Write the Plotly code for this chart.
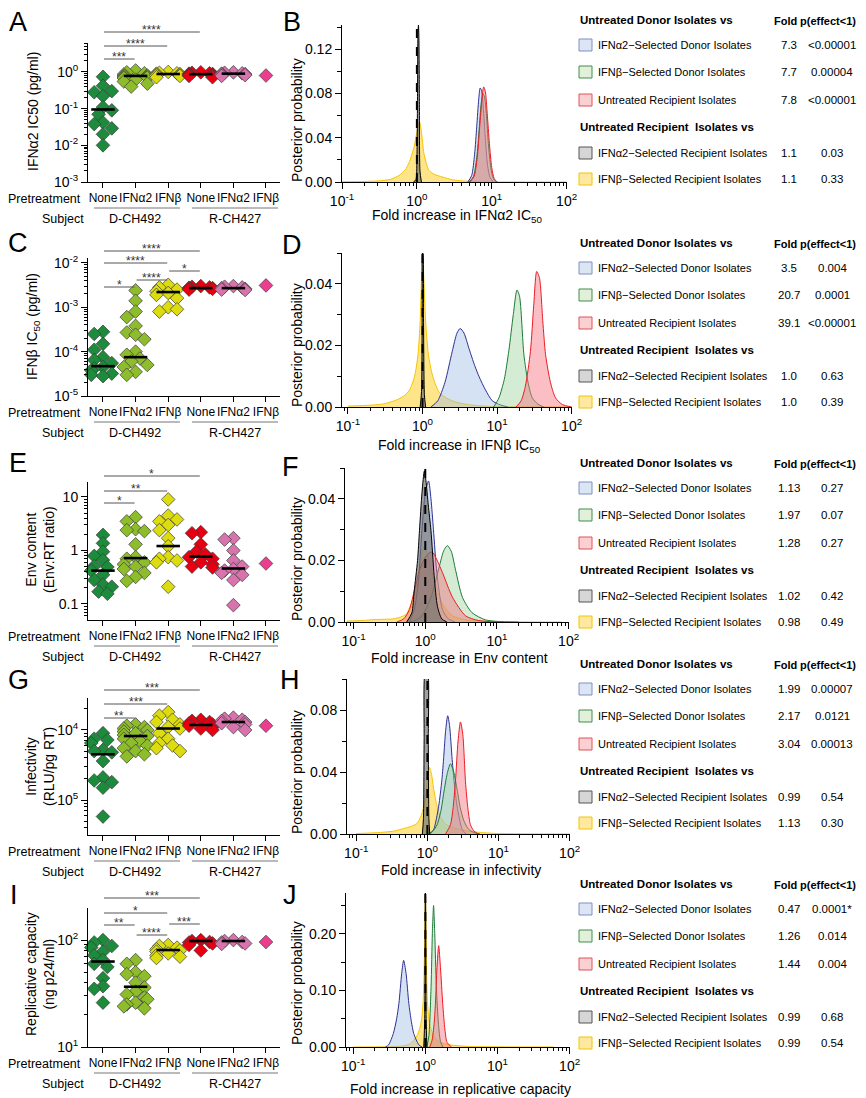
import numpy as np
import plotly.graph_objects as go

# The page body adds an 8px margin; the figure is sized so that it ends at the window edge.
OFF = 8
W, H = 866 - OFF, 1098 - OFF
def fx(p): return (p - OFF) / W
def fy(p): return 1 - (p - OFF) / H

SANS = "Liberation Sans, Arial, Helvetica, sans-serif"
NARROW = "Liberation Sans Narrow, Arial Narrow, Liberation Sans, Arial, sans-serif"

# ---------------- data ----------------
categories = ["None", "IFNα2", "IFNβ", "None", "IFNα2", "IFNβ"]
group_colors = ["#1c8c3c", "#8dbd2a", "#dcdc10", "#e60012", "#d873ad", "#ec3d8f"]

A_d_none = [0.74, 0.42, 0.30, 0.28, 0.22, 0.11, 0.09, 0.07, 0.042, 0.038, 0.029, 0.02, 0.01]
A_d_a2 = [1.1, 0.98, 0.92, 0.86, 0.8, 0.78, 0.75, 0.72, 0.7, 0.68, 0.62, 0.55, 0.48, 0.4]
A_d_b = [1.0, 0.95, 0.92, 0.9, 0.88, 0.85, 0.82, 0.8, 0.78, 0.72]
A_r_none = [0.98, 0.95, 0.92, 0.9, 0.88, 0.86, 0.85, 0.82, 0.8, 0.78, 0.72]
A_r_a2 = [0.98, 0.95, 0.92, 0.9, 0.88, 0.85, 0.82, 0.78]
A_r_b = [0.8]
A_med = [0.095, 0.78, 0.88, 0.87, 0.9, None]

C_d_none = [2.8e-4, 2.5e-4, 1.5e-4, 1.1e-4, 7.5e-5, 6.5e-5, 5.5e-5, 4.5e-5, 4.2e-5, 3.8e-5, 3.2e-5, 3.0e-5, 2.8e-5]
C_d_a2 = [2.4e-3, 1.4e-3, 8e-4, 6e-4, 3.8e-4, 2.7e-4, 2.4e-4, 1.9e-4, 1e-4, 8.5e-5, 7e-5, 6e-5, 5e-5, 4.5e-5, 3.5e-5, 3e-5]
C_d_b = [3.2e-3, 2.8e-3, 2.5e-3, 2.3e-3, 2.1e-3, 1.9e-3, 1.6e-3, 1.0e-3, 9e-4, 8e-4]
C_r_none = [3.0e-3, 2.9e-3, 2.8e-3, 2.75e-3, 2.7e-3, 2.65e-3, 2.6e-3, 2.5e-3]
C_r_a2 = [3.0e-3, 2.9e-3, 2.8e-3, 2.7e-3, 2.6e-3, 2.5e-3, 2.45e-3]
C_r_b = [3.1e-3]
C_med = [4.7e-5, 7.5e-5, 2.2e-3, 2.7e-3, 2.7e-3, None]

E_d_none = [1.95, 1.36, 0.95, 0.79, 0.66, 0.51, 0.49, 0.42, 0.35, 0.28, 0.23, 0.21, 0.17, 0.155]
E_d_a2 = [4.2, 3.5, 2.5, 2.4, 2.3, 1.3, 0.75, 0.7, 0.6, 0.55, 0.5, 0.45, 0.38, 0.32, 0.27]
E_d_b = [9.0, 4.5, 3.8, 3.5, 3.0, 2.4, 1.7, 1.2, 0.75, 0.7, 0.65, 0.6, 0.21]
E_r_none = [2.2, 2.1, 1.3, 0.95, 0.85, 0.75, 0.7, 0.6, 0.55, 0.5, 0.48]
E_r_a2 = [1.7, 1.6, 1.0, 0.65, 0.5, 0.45, 0.42, 0.38, 0.35, 0.28, 0.095]
E_r_b = [0.57]
E_med = [0.42, 0.72, 1.21, 0.77, 0.46, None]

G_d_none = [9.0e3, 7.5e3, 7.2e3, 6.5e3, 5.2e3, 5.0e3, 4.8e3, 3.6e3, 2.1e3, 1.9e3, 1.8e3, 1.5e3, 580]
G_d_a2 = [1.2e4, 1.15e4, 1.1e4, 1.05e4, 1.0e4, 9.5e3, 9.0e3, 8.5e3, 8.2e3, 7.5e3, 7.0e3, 6.5e3, 6.0e3, 5.5e3, 5.0e3, 4.5e3, 4.2e3]
G_d_b = [1.8e4, 1.6e4, 1.4e4, 1.3e4, 1.2e4, 1.1e4, 1.05e4, 9.0e3, 7.5e3, 6.5e3, 6.0e3, 5.5e3, 5.0e3]
G_r_none = [1.4e4, 1.35e4, 1.3e4, 1.25e4, 1.2e4, 1.15e4, 1.1e4, 1.05e4, 1.0e4]
G_r_a2 = [1.5e4, 1.45e4, 1.4e4, 1.35e4, 1.3e4, 1.25e4, 1.2e4, 1.1e4, 1.0e4]
G_r_b = [1.15e4]
G_med = [4.5e3, 8.2e3, 1.05e4, 1.18e4, 1.3e4, None]

I_d_none = [100, 95, 88, 85, 78, 72, 65, 60, 56, 44, 37, 35, 26]
I_d_a2 = [65, 60, 50, 48, 46, 40, 36, 33, 31, 29, 28, 26, 25, 24, 23]
I_d_b = [90, 88, 85, 82, 80, 78, 75, 72, 70, 68]
I_r_none = [100, 98, 96, 95, 93, 90, 80]
I_r_a2 = [100, 98, 96, 95, 93, 92]
I_r_b = [96]
I_med = [63, 36.6, 80.7, 98, 98, None]

# significance comparisons: (group i, group j, label)
A_sig = [(0, 1, "***"), (0, 2, "****"), (0, 3, "****")]
C_sig = [(0, 1, "*"), (1, 2, "****"), (2, 3, "*"), (0, 2, "****"), (0, 3, "****")]
E_sig = [(0, 1, "*"), (0, 2, "**"), (0, 3, "*")]
G_sig = [(0, 1, "**"), (0, 2, "***"), (0, 3, "***")]
I_sig = [(0, 1, "**"), (1, 2, "****"), (2, 3, "***"), (0, 2, "*"), (0, 3, "***")]

# posterior densities (fold, density)
B_yellow_fold = [0.1, 0.2, 0.31, 0.45, 0.58, 0.7, 0.78, 0.85, 0.92, 1.0, 1.06, 1.09, 1.15, 1.24, 1.35, 1.45, 1.7, 2.2, 3.0, 4.0, 6, 10, 100]
B_yellow_dens = [0.0002, 0.0005, 0.001, 0.0025, 0.006, 0.011, 0.017, 0.024, 0.032, 0.045, 0.053, 0.054, 0.045, 0.026, 0.016, 0.0105, 0.007, 0.0045, 0.002, 0.001, 0.0004, 0.0001, 0]
B_black_fold = [0.9, 0.97, 1.0, 1.02, 1.035, 1.05, 1.065, 1.08, 1.1, 1.15]
B_black_dens = [0, 0.002, 0.02, 0.08, 0.135, 0.142, 0.13, 0.07, 0.01, 0]
B_blue_fold = [4.8, 5.4, 5.9, 6.3, 6.7, 7.0, 7.3, 7.7, 8.2, 8.8, 9.5, 10.5]
B_blue_dens = [0, 0.006, 0.025, 0.05, 0.075, 0.085, 0.083, 0.068, 0.04, 0.015, 0.004, 0]
B_green_fold = [5.0, 5.7, 6.3, 6.8, 7.2, 7.6, 8.0, 8.5, 9.0, 9.7, 10.5, 11.5]
B_green_dens = [0, 0.005, 0.022, 0.048, 0.07, 0.08, 0.077, 0.06, 0.035, 0.013, 0.003, 0]
B_red_fold = [5.1, 5.8, 6.4, 6.9, 7.4, 7.8, 8.2, 8.7, 9.3, 10.0, 10.8, 11.8]
B_red_dens = [0, 0.005, 0.022, 0.05, 0.075, 0.086, 0.082, 0.062, 0.035, 0.013, 0.003, 0]

D_yellow_fold = [0.1, 0.2, 0.3, 0.45, 0.58, 0.67, 0.78, 0.87, 0.93, 0.97, 1.0, 1.04, 1.1, 1.2, 1.37, 1.7, 2.5, 4, 8, 100]
D_yellow_dens = [0.0003, 0.0006, 0.001, 0.0023, 0.0038, 0.0055, 0.0098, 0.017, 0.028, 0.042, 0.05, 0.042, 0.028, 0.017, 0.01, 0.0045, 0.002, 0.0008, 0.0002, 0]
D_black_fold = [0.93, 0.97, 0.99, 1.0, 1.01, 1.03, 1.06, 1.1]
D_black_dens = [0, 0.005, 0.04, 0.05, 0.05, 0.03, 0.004, 0]
D_blue_fold = [1.3, 1.6, 2.0, 2.5, 2.9, 3.2, 3.6, 4.2, 5.0, 5.75, 7.0, 8.65, 11, 14]
D_blue_dens = [0, 0.002, 0.008, 0.018, 0.024, 0.0255, 0.024, 0.019, 0.0135, 0.0098, 0.0055, 0.002, 0.0007, 0]
D_green_fold = [9, 10.6, 12.5, 14.4, 16.5, 18.5, 20, 22.9, 26, 29.6, 35, 42]
D_green_dens = [0, 0.003, 0.009, 0.0184, 0.03, 0.038, 0.036, 0.017, 0.008, 0.003, 0.001, 0]
D_red_fold = [18, 21, 24, 28, 31, 34, 37, 41, 44.7, 52, 60.7, 75, 100]
D_red_dens = [0, 0.002, 0.0068, 0.018, 0.033, 0.044, 0.042, 0.028, 0.017, 0.008, 0.003, 0.0008, 0]

F_yellow_fold = [0.08, 0.135, 0.2, 0.35, 0.45, 0.54, 0.635, 0.75, 0.85, 0.95, 1.0, 1.1, 1.25, 1.45, 1.73, 2.4, 3.5, 6, 10, 80]
F_yellow_dens = [0.0003, 0.0005, 0.0008, 0.001, 0.0016, 0.0025, 0.006, 0.012, 0.019, 0.0243, 0.024, 0.021, 0.016, 0.011, 0.006, 0.002, 0.0008, 0.0003, 0.0001, 0]
F_black_fold = [0.55, 0.65, 0.7, 0.78, 0.83, 0.9, 0.97, 1.02, 1.1, 1.2, 1.33, 1.48, 1.7, 2]
F_black_dens = [0, 0.003, 0.01, 0.02, 0.0297, 0.042, 0.049, 0.046, 0.038, 0.0297, 0.015, 0.005, 0.001, 0]
F_blue_fold = [0.6, 0.7, 0.8, 0.9, 1.0, 1.11, 1.2, 1.3, 1.45, 1.74, 2.1, 2.6]
F_blue_dens = [0, 0.004, 0.013, 0.03, 0.042, 0.0458, 0.04, 0.03, 0.016, 0.004, 0.001, 0]
F_green_fold = [0.6, 0.72, 0.9, 1.2, 1.56, 1.8, 2.03, 2.3, 2.65, 3.3, 4.5, 6.9, 10, 20]
F_green_dens = [0, 0.0005, 0.002, 0.008, 0.0178, 0.023, 0.0248, 0.023, 0.0168, 0.008, 0.003, 0.0007, 0.0002, 0]
F_red_fold = [0.4, 0.5, 0.6, 0.7, 0.83, 1.0, 1.15, 1.26, 1.4, 1.74, 2.4, 3.65, 5.5, 10]
F_red_dens = [0, 0.001, 0.004, 0.01, 0.0168, 0.021, 0.0225, 0.0227, 0.021, 0.016, 0.008, 0.002, 0.0005, 0]

H_yellow_fold = [0.1, 0.22, 0.35, 0.46, 0.6, 0.72, 0.82, 0.89, 0.96, 1.02, 1.07, 1.15, 1.23, 1.35, 1.52, 1.8, 2.35, 3.5, 5.6, 10, 100]
H_yellow_dens = [0.0003, 0.001, 0.002, 0.0035, 0.005, 0.007, 0.012, 0.0178, 0.028, 0.039, 0.043, 0.038, 0.0286, 0.019, 0.0113, 0.0065, 0.004, 0.002, 0.001, 0.0003, 0]
H_black_fold = [0.85, 0.88, 0.9, 0.93, 0.97, 1.01, 1.03, 1.05, 1.08]
H_black_dens = [0, 0.01, 0.06, 0.105, 0.105, 0.105, 0.06, 0.01, 0]
H_blue_fold = [1.1, 1.23, 1.44, 1.6, 1.7, 1.8, 1.93, 2.05, 2.23, 2.4, 2.62, 3.08, 3.5]
H_blue_dens = [0, 0.003, 0.0178, 0.035, 0.05, 0.066, 0.0763, 0.07, 0.048, 0.032, 0.0178, 0.003, 0]
H_green_fold = [1.0, 1.2, 1.37, 1.55, 1.7, 1.9, 2.11, 2.35, 2.62, 2.9, 3.25, 3.8, 4.5, 5.5]
H_green_dens = [0, 0.002, 0.006, 0.015, 0.0265, 0.039, 0.0453, 0.04, 0.0286, 0.017, 0.0087, 0.003, 0.001, 0]
H_red_fold = [1.8, 2.11, 2.3, 2.48, 2.7, 2.92, 3.15, 3.43, 3.7, 4.03, 4.5, 5.2]
H_red_dens = [0, 0.006, 0.017, 0.034, 0.06, 0.0723, 0.064, 0.034, 0.017, 0.006, 0.002, 0]

J_yellow_fold = [0.1, 0.3, 0.5, 0.6, 0.69, 0.78, 0.85, 0.9, 0.93, 0.96, 0.98, 1.0, 1.02, 1.04, 1.07, 1.12, 1.17, 1.3, 1.45, 1.8, 2.45, 4, 10, 60]
J_yellow_dens = [0, 0.0005, 0.002, 0.005, 0.012, 0.022, 0.036, 0.055, 0.078, 0.13, 0.2, 0.28, 0.2, 0.13, 0.078, 0.05, 0.036, 0.02, 0.012, 0.006, 0.003, 0.001, 0.0003, 0]
J_black_fold = [0.95, 0.98, 0.995, 1.0, 1.01, 1.025, 1.05]
J_black_dens = [0, 0.05, 0.25, 0.28, 0.25, 0.05, 0]
J_blue_fold = [0.28, 0.31, 0.36, 0.4, 0.43, 0.47, 0.5, 0.54, 0.59, 0.64, 0.69, 0.81, 0.9]
J_blue_dens = [0, 0.004, 0.024, 0.05, 0.077, 0.13, 0.153, 0.13, 0.077, 0.045, 0.024, 0.004, 0]
J_green_fold = [1.05, 1.12, 1.2, 1.25, 1.3, 1.35, 1.42, 1.52, 1.62, 1.75]
J_green_dens = [0, 0.02, 0.107, 0.2, 0.25, 0.2, 0.107, 0.04, 0.01, 0]
J_red_fold = [1.15, 1.24, 1.32, 1.38, 1.45, 1.53, 1.62, 1.74, 1.87, 2.0, 2.3]
J_red_dens = [0, 0.012, 0.04, 0.077, 0.14, 0.179, 0.14, 0.077, 0.03, 0.008, 0]

# tables
table_labels = ["IFNα2−Selected Donor Isolates", "IFNβ−Selected Donor Isolates",
                "Untreated Recipient Isolates", "IFNα2−Selected Recipient Isolates",
                "IFNβ−Selected Recipient Isolates"]
table_header1 = "Untreated Donor Isolates vs"
table_header2 = "Untreated Recipient  Isolates vs"
A_fold = ["7.3", "7.7", "7.8", "1.1", "1.1"]
A_p = ["<0.00001", "0.00004", "<0.00001", "0.03", "0.33"]
C_fold = ["3.5", "20.7", "39.1", "1.0", "1.0"]
C_p = ["0.004", "0.0001", "<0.00001", "0.63", "0.39"]
E_fold = ["1.13", "1.97", "1.28", "1.02", "0.98"]
E_p = ["0.27", "0.07", "0.27", "0.42", "0.49"]
G_fold = ["1.99", "2.17", "3.04", "0.99", "1.13"]
G_p = ["0.00007", "0.0121", "0.00013", "0.54", "0.30"]
I_fold = ["0.47", "1.26", "1.44", "0.99", "0.99"]
I_p = ["0.0001*", "0.014", "0.004", "0.68", "0.54"]

# ---------------- styling ----------------
curve_style = {
    "yellow": ("#f5c400", "rgba(255,208,40,0.55)"),
    "blue": ("#2e3192", "rgba(160,190,228,0.45)"),
    "green": ("#1e7b3a", "rgba(160,210,160,0.45)"),
    "red": ("#ed1c24", "rgba(245,110,125,0.45)"),
    "black": ("#000000", "rgba(110,110,110,0.65)"),
}
square_style = [("#7f8fc4", "#dbe5f3"), ("#3f8f4a", "#e2f0da"), ("#e2505a", "#fbd0d3"),
                ("#555555", "#d6d6d6"), ("#f5c400", "#ffe9a0")]

def sup(e):
    return "10<sup>%d</sup>" % e

def minor_log(lo, hi):
    out = []
    for d in range(lo, hi + 1):
        for m in range(2, 10):
            out.append(m * 10.0 ** d)
    return out

dot_panels = [
    dict(letter="A", groups=[A_d_none, A_d_a2, A_d_b, A_r_none, A_r_a2, A_r_b], med=A_med, sig=A_sig,
         top=43, bot=182, rng=[-3, 0.79], tv=[1e-3, 1e-2, 1e-1, 1], tt=[sup(-3), sup(-2), sup(-1), sup(0)],
         minor=minor_log(-3, 0), title="IFNα2 IC50 (pg/ml)", tpos=(33, 112), sig_y=[59, 46, 32]),
    dict(letter="C", groups=[C_d_none, C_d_a2, C_d_b, C_r_none, C_r_a2, C_r_b], med=C_med, sig=C_sig,
         top=258, bot=396, rng=[-5, -1.89], tv=[1e-5, 1e-4, 1e-3, 1e-2], tt=[sup(-5), sup(-4), sup(-3), sup(-2)],
         minor=minor_log(-5, -2), title="IFNβ IC<sub>50</sub> (pg/ml)", tpos=(33, 327), sig_y=[287, 280, 271, 263, 251]),
    dict(letter="E", groups=[E_d_none, E_d_a2, E_d_b, E_r_none, E_r_a2, E_r_b], med=E_med, sig=E_sig,
         top=482, bot=620, rng=[-1.30, 1.28], tv=[0.1, 1, 10], tt=["0.1", "1", "10"],
         minor=minor_log(-2, 1), title="Env content<br>(Env:RT ratio)", tpos=(40, 550), sig_y=[503, 491, 476]),
    dict(letter="G", groups=[G_d_none, G_d_a2, G_d_b, G_r_none, G_r_a2, G_r_b], med=G_med, sig=G_sig,
         top=698, bot=835, rng=[2.5, 4.457], tv=[1e3, 1e4], tt=[sup(5), sup(4)],
         minor=minor_log(2, 4), title="Infectivity<br>(RLU/pg RT)", tpos=(40, 767), sig_y=[718, 704, 690]),
    dict(letter="I", groups=[I_d_none, I_d_a2, I_d_b, I_r_none, I_r_a2, I_r_b], med=I_med, sig=I_sig,
         top=908, bot=1047, rng=[1, 2.3], tv=[10, 100], tt=[sup(1), sup(2)],
         minor=minor_log(1, 2), title="Replicative capacity<br>(ng p24/ml)", tpos=(40, 974), sig_y=[925, 935, 924, 913, 898]),
]

dens_panels = [
    dict(letter="B", curves=[("yellow", B_yellow_fold, B_yellow_dens), ("blue", B_blue_fold, B_blue_dens),
                             ("green", B_green_fold, B_green_dens), ("red", B_red_fold, B_red_dens),
                             ("black", B_black_fold, B_black_dens)],
         xl=342, xr=567, xrng=[-1, 2.005], top=25, bot=182, yrng=[0, 0.142],
         tv=[0, 0.04, 0.08, 0.12], tt=["0.00", "0.04", "0.08", "0.12"], minor=[0.02, 0.06, 0.10, 0.14],
         xtitle="Fold increase in IFNα2 IC<sub>50</sub>", xty=216, yty=120,
         fold=A_fold, p=A_p, tbase=20),
    dict(letter="D", curves=[("yellow", D_yellow_fold, D_yellow_dens), ("blue", D_blue_fold, D_blue_dens),
                             ("green", D_green_fold, D_green_dens), ("red", D_red_fold, D_red_dens),
                             ("black", D_black_fold, D_black_dens)],
         xl=342, xr=572, xrng=[-1.08, 2.005], top=253, bot=407, yrng=[0, 0.05],
         tv=[0, 0.02, 0.04], tt=["0.00", "0.02", "0.04"], minor=[0.01, 0.03, 0.05],
         xtitle="Fold increase in IFNβ IC<sub>50</sub>", xty=446, yty=345,
         fold=C_fold, p=C_p, tbase=243),
    dict(letter="F", curves=[("yellow", F_yellow_fold, F_yellow_dens), ("blue", F_blue_fold, F_blue_dens),
                             ("green", F_green_fold, F_green_dens), ("red", F_red_fold, F_red_dens),
                             ("black", F_black_fold, F_black_dens)],
         xl=345, xr=569, xrng=[-1.12, 2.005], top=468, bot=622, yrng=[0, 0.05],
         tv=[0, 0.02, 0.04], tt=["0.00", "0.02", "0.04"], minor=[0.01, 0.03, 0.05],
         xtitle="Fold increase in Env content", xty=658, yty=559,
         fold=E_fold, p=E_p, tbase=463),
    dict(letter="H", curves=[("yellow", H_yellow_fold, H_yellow_dens), ("blue", H_blue_fold, H_blue_dens),
                             ("green", H_green_fold, H_green_dens), ("red", H_red_fold, H_red_dens),
                             ("black", H_black_fold, H_black_dens)],
         xl=347, xr=570, xrng=[-1.13, 2.005], top=679, bot=834, yrng=[0, 0.1],
         tv=[0, 0.04, 0.08], tt=["0.00", "0.04", "0.08"], minor=[0.02, 0.06, 0.10],
         xtitle="Fold increase in infectivity", xty=870, yty=772,
         fold=G_fold, p=G_p, tbase=664),
    dict(letter="J", curves=[("yellow", J_yellow_fold, J_yellow_dens), ("blue", J_blue_fold, J_blue_dens),
                             ("green", J_green_fold, J_green_dens), ("red", J_red_fold, J_red_dens),
                             ("black", J_black_fold, J_black_dens)],
         xl=346, xr=570, xrng=[-1.1, 2.005], top=893, bot=1047, yrng=[0, 0.272],
         tv=[0, 0.1, 0.2], tt=["0.00", "0.10", "0.20"], minor=[0.05, 0.15, 0.25],
         xtitle="Fold increase in replicative capacity", xty=1089, yty=983,
         fold=I_fold, p=I_p, tbase=884),
]
letter_pos = {"A": (18, 22), "B": (292, 22), "C": (18, 243), "D": (292, 245), "E": (18, 463),
              "F": (290, 467), "G": (18, 680), "H": (290, 680), "I": (14, 895), "J": (290, 895)}

DOT_XL, DOT_XR = 88, 280
DOT_XRNG = [-0.46, 5.43]
CAT_PX = (DOT_XR - DOT_XL) / (DOT_XRNG[1] - DOT_XRNG[0])


def swarm(vals, px_per_dec, diam=8.0, maxoff=0.40):
    ys = np.log10(np.asarray(vals, float)) * px_per_dec
    order = np.argsort(-ys)
    placed = []
    offs = np.zeros(len(ys))
    step = diam * 0.55
    for n, idx in enumerate(order):
        y = ys[idx]
        chosen = None
        for k in range(0, 12):
            cands = [0.0] if k == 0 else ([k * step, -k * step] if n % 2 == 0 else [-k * step, k * step])
            for x in cands:
                if abs(x) > maxoff * CAT_PX:
                    continue
                if all((x - a) ** 2 + (y - b) ** 2 >= diam ** 2 for a, b in placed):
                    chosen = x
                    break
            if chosen is not None:
                break
        if chosen is None:
            chosen = (maxoff * CAT_PX) * (1 if n % 2 == 0 else -1) * 0.9
        placed.append((chosen, y))
        offs[idx] = chosen / CAT_PX
    return offs


fig = go.Figure()
layout = dict(width=W, height=H, margin=dict(l=0, r=0, t=0, b=0, pad=0, autoexpand=False),
              paper_bgcolor="white", plot_bgcolor="white", showlegend=False, template="none")
shapes, annos = [], []

def ax(n):
    return "" if n == 1 else str(n)

def txt(x, y, text, size=13, family=SANS, xanchor="center", angle=0, xref="paper", color="black"):
    return dict(x=x if xref != "paper" else fx(x), y=fy(y), xref=xref, yref="paper", text=text,
                showarrow=False, xanchor=xanchor, yanchor="middle", textangle=angle,
                font=dict(family=family, size=size, color=color))

for r, P in enumerate(dot_panels):
    n = 2 * r + 1
    xa, ya = "x" + ax(n), "y" + ax(n)
    px_per_dec = (P["bot"] - P["top"]) / (P["rng"][1] - P["rng"][0])
    for g, vals in enumerate(P["groups"]):
        offs = swarm(vals, px_per_dec)
        fig.add_trace(go.Scatter(x=g + offs, y=vals, mode="markers", xaxis=xa, yaxis=ya,
                                 marker=dict(symbol="diamond", size=10.5, color=group_colors[g],
                                             line=dict(color="#3a3a3a", width=0.7)),
                                 cliponaxis=False, hoverinfo="skip"))
        m = P["med"][g]
        if m is not None:
            fig.add_trace(go.Scatter(x=[g - 0.36, g + 0.36], y=[m, m], mode="lines", xaxis=xa, yaxis=ya,
                                     line=dict(color="black", width=2.6), hoverinfo="skip"))
    layout["xaxis" + ax(n)] = dict(domain=[fx(DOT_XL), fx(DOT_XR)], anchor=ya, range=DOT_XRNG,
                                   showline=True, linecolor="black", linewidth=1, ticks="outside",
                                   ticklen=5, tickcolor="black", tickvals=list(range(6)), ticktext=categories,
                                   tickangle=0, automargin=False,
                                   tickfont=dict(family=NARROW, size=12, color="black"), showgrid=False,
                                   zeroline=False, fixedrange=True)
    layout["yaxis" + ax(n)] = dict(domain=[fy(P["bot"]), fy(P["top"])], anchor=xa, type="log", range=P["rng"],
                                   showline=True, linecolor="black", linewidth=1, ticks="outside",
                                   ticklen=6, tickcolor="black", tickvals=P["tv"], ticktext=P["tt"],
                                   automargin=False,
                                   tickfont=dict(family=SANS, size=14, color="black"), showgrid=False,
                                   zeroline=False,
                                   minor=dict(tickvals=P["minor"], ticks="outside", ticklen=3,
                                              tickcolor="black", showgrid=False))
    # significance bars
    for (i, j, lab), yb in zip(P["sig"], P["sig_y"]):
        shapes.append(dict(type="line", xref=xa, yref="paper", x0=i + 0.03, x1=j - 0.03,
                           y0=fy(yb), y1=fy(yb), line=dict(color="#555555", width=1)))
        annos.append(txt(i + (j - i) / 2, yb - 2, lab, size=12, xref=xa, color="#333333"))
    # bottom labels
    b = P["bot"]
    annos.append(txt(83, b + 17, "Pretreatment", size=12.5, family=NARROW, xanchor="right"))
    annos.append(txt(86, b + 37, "Subject", size=12.5, family=NARROW, xanchor="right"))
    annos.append(txt(135, b + 37, "D-CH492", size=12.5, family=NARROW))
    annos.append(txt(235, b + 37, "R-CH427", size=12.5, family=NARROW))
    for x0, x1 in [(94, 180), (192, 278)]:
        shapes.append(dict(type="line", xref="paper", yref="paper", x0=fx(x0), x1=fx(x1),
                           y0=fy(b + 26), y1=fy(b + 26), line=dict(color="#777777", width=1)))
    annos.append(txt(P["tpos"][0], P["tpos"][1], P["title"], size=14, angle=-90))

for r, P in enumerate(dens_panels):
    n = 2 * r + 2
    xa, ya = "x" + ax(n), "y" + ax(n)
    for name, fold, dens in P["curves"]:
        lc, fc = curve_style[name]
        fig.add_trace(go.Scatter(x=fold, y=dens, mode="lines", xaxis=xa, yaxis=ya, fill="tozeroy",
                                 fillcolor=fc, line=dict(color=lc, width=1, shape="spline", smoothing=0.7),
                                 hoverinfo="skip"))
    layout["xaxis" + ax(n)] = dict(domain=[fx(P["xl"]), fx(P["xr"])], anchor=ya, type="log", range=P["xrng"],
                                   showline=True, linecolor="black", linewidth=1, ticks="outside",
                                   ticklen=6, tickcolor="black", tickvals=[0.1, 1, 10, 100],
                                   ticktext=[sup(-1), sup(0), sup(1), sup(2)], automargin=False,
                                   tickfont=dict(family=SANS, size=14, color="black"), showgrid=False,
                                   zeroline=False,
                                   minor=dict(tickvals=minor_log(-2, 1), ticks="outside", ticklen=3,
                                              tickcolor="black", showgrid=False))
    layout["yaxis" + ax(n)] = dict(domain=[fy(P["bot"]), fy(P["top"])], anchor=xa, range=P["yrng"],
                                   showline=True, linecolor="black", linewidth=1, ticks="outside",
                                   ticklen=6, tickcolor="black", tickvals=P["tv"], ticktext=P["tt"],
                                   automargin=False,
                                   tickfont=dict(family=SANS, size=14, color="black"), showgrid=False,
                                   zeroline=False,
                                   minor=dict(tickvals=P["minor"], ticks="outside", ticklen=4,
                                              tickcolor="black", showgrid=False))
    shapes.append(dict(type="line", xref=xa, yref=ya, x0=1, x1=1, y0=0, y1=P["yrng"][1],
                       line=dict(color="black", width=2, dash="dash")))
    annos.append(txt((P["xl"] + P["xr"]) / 2 + 2, P["xty"], P["xtitle"], size=14))
    annos.append(txt(297, P["yty"], "Posterior probability", size=14, angle=-90))
    # table
    tb = P["tbase"]
    offsets = [25, 52, 80, 133, 159]
    TS = 11
    annos.append(txt(578, tb, "<b>%s</b>" % table_header1, size=11.5, family=NARROW, xanchor="left"))
    annos.append(txt(578, tb + 107, "<b>%s</b>" % table_header2, size=11.5, family=NARROW, xanchor="left"))
    annos.append(txt(785, tb + 1, "<b>Fold</b>", size=11, family=NARROW))
    annos.append(txt(828, tb + 1, "<b>p(effect&lt;1)</b>", size=11, family=NARROW))
    for k in range(5):
        yy = tb + offsets[k]
        lc, fc = square_style[k]
        shapes.append(dict(type="rect", xref="paper", yref="paper", x0=fx(579), x1=fx(592),
                           y0=fy(yy + 6), y1=fy(yy - 6), line=dict(color=lc, width=1), fillcolor=fc))
        annos.append(txt(596, yy, table_labels[k], size=TS, family=NARROW, xanchor="left"))
        annos.append(txt(789, yy, P["fold"][k], size=11.5, family=NARROW))
        annos.append(txt(832, yy, P["p"][k].replace("<", "&lt;"), size=11.5, family=NARROW))

for L, (x, y) in letter_pos.items():
    annos.append(txt(x, y, L, size=27))

layout["shapes"] = shapes
layout["annotations"] = annos
fig.update_layout(**layout)
fig.write_html("out.html")
